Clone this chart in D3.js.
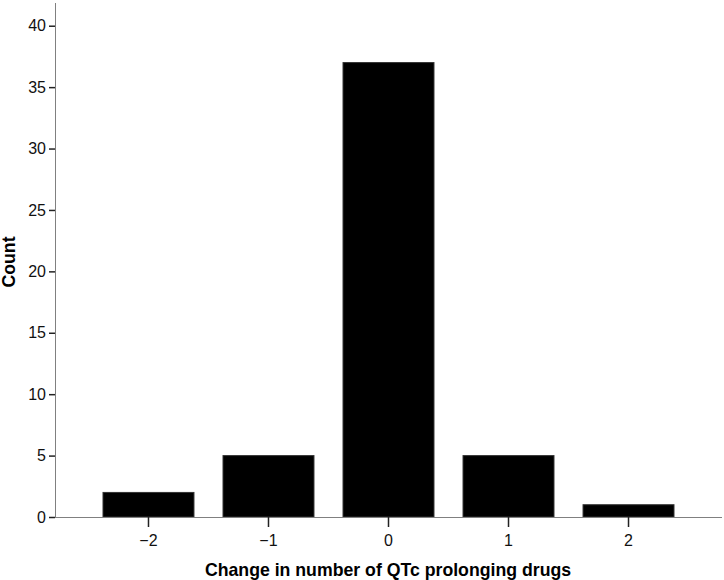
<!DOCTYPE html>
<html>
<head>
<meta charset="utf-8">
<script src="https://cdn.jsdelivr.net/npm/d3@7"></script>
<style>
body { margin: 0; background: #fff; }
text { font-family: Arial, "Liberation Sans", sans-serif; }
</style>
</head>
<body>
<script>
// Daten
var categories = ["\u22122", "\u22121", "0", "1", "2"];
var counts = [2, 5, 37, 5, 1];
var yTicks = [0, 5, 10, 15, 20, 25, 30, 35, 40];

var W = 724, H = 580;
var plotLeft = 55, plotRight = 722, plotTop = 3, plotBottom = 517;

var svg = d3.select("body").append("svg")
  .attr("width", W)
  .attr("height", H);

// Skalen
var x = d3.scaleBand()
  .domain(categories)
  .range([plotLeft, plotRight])
  .paddingInner(0.242)
  .paddingOuter(0.4);

var y = d3.scaleLinear()
  .domain([0, 41.85])
  .range([plotBottom, plotTop]);

// Balken
svg.selectAll("rect.bar")
  .data(counts)
  .enter().append("rect")
  .attr("class", "bar")
  .attr("x", (d, i) => x(categories[i]))
  .attr("y", d => y(d))
  .attr("width", x.bandwidth())
  .attr("height", d => plotBottom - y(d))
  .attr("fill", "#000")
  .attr("stroke", "#333")
  .attr("stroke-width", 1);

// Y Achse
var yAxis = svg.append("g")
  .attr("transform", "translate(" + plotLeft + ",0)")
  .call(d3.axisLeft(y).tickValues(yTicks).tickSize(6).tickPadding(3));
yAxis.select(".domain").attr("stroke", "#808080").attr("d", "M0.5," + plotTop + "V" + plotBottom);
yAxis.selectAll(".tick line").attr("stroke", "#222").attr("stroke-width", 1.5);
yAxis.selectAll(".tick text").attr("font-size", 16).attr("fill", "#111");

// X Achse
var xAxis = svg.append("g")
  .attr("transform", "translate(0," + plotBottom + ")")
  .call(d3.axisBottom(x).tickSize(10).tickPadding(8));
xAxis.select(".domain").attr("stroke", "#808080").attr("d", "M" + plotLeft + ",0.5H" + plotRight);
xAxis.selectAll(".tick line").attr("stroke", "#222").attr("stroke-width", 1.5);
xAxis.selectAll(".tick text").attr("font-size", 16).attr("fill", "#111");

// Achsentitel
svg.append("text")
  .attr("x", 388)
  .attr("y", 576)
  .attr("text-anchor", "middle")
  .attr("font-size", 17.7)
  .attr("font-weight", "bold")
  .text("Change in number of QTc prolonging drugs");

svg.append("text")
  .attr("transform", "translate(15," + 262 + ") rotate(-90)")
  .attr("text-anchor", "middle")
  .attr("font-size", 17.7)
  .attr("font-weight", "bold")
  .text("Count");
</script>
</body>
</html>
